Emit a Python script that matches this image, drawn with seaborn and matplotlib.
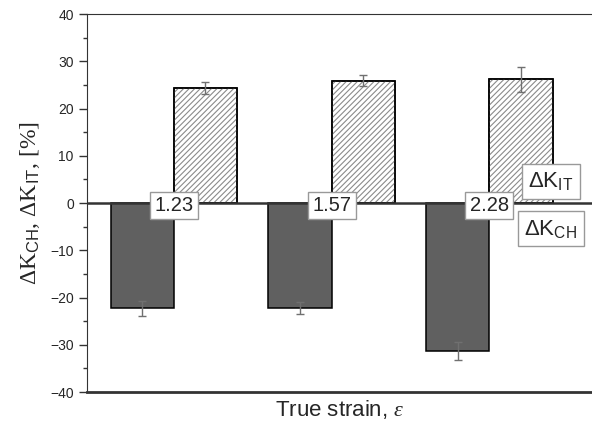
import numpy as np
import pandas as pd
import matplotlib
matplotlib.use('Agg')
import matplotlib.pyplot as plt
import seaborn as sns
from matplotlib.ticker import MultipleLocator

# ---- data ----
strain = ['1.23', '1.57', '2.28']
dk_ch = [-22.3, -22.2, -31.3]
dk_ch_err = [1.5, 1.2, 1.9]
dk_it = [24.4, 25.9, 26.2]
dk_it_err = [1.3, 1.2, 2.6]

df = pd.DataFrame({
    'strain': strain * 2,
    'value': dk_ch + dk_it,
    'series': ['CH'] * 3 + ['IT'] * 3,
})
errs = {'CH': dk_ch_err, 'IT': dk_it_err}

sns.set_style('ticks')
plt.rcParams['font.family'] = ['Liberation Sans', 'DejaVu Sans']
plt.rcParams['mathtext.fontset'] = 'custom'
plt.rcParams['mathtext.rm'] = 'Liberation Serif'
plt.rcParams['mathtext.sf'] = 'Liberation Sans'
plt.rcParams['mathtext.it'] = 'Liberation Serif:italic'
plt.rcParams['hatch.linewidth'] = 0.8

fig = plt.figure(figsize=(5.92, 4.28), dpi=100)
ax = fig.add_axes([0.147, 0.084, 0.853, 0.883])

sns.barplot(data=df, x='strain', y='value', hue='series', hue_order=['CH', 'IT'],
            order=strain, palette=['#606060', 'white'], width=0.8,
            edgecolor='black', linewidth=1.1, errorbar=None, legend=False, ax=ax)

# hatched series: gray hatch, then black outline on top
for bar in ax.containers[1]:
    x, y = bar.get_x(), bar.get_y()
    w, h = bar.get_width(), bar.get_height()
    ax.add_patch(plt.Rectangle((x, y), w, h, facecolor='none', edgecolor='#8a8a8a',
                               hatch='//////', linewidth=0, zorder=bar.get_zorder() + 0.1))
    ax.add_patch(plt.Rectangle((x, y), w, h, facecolor='none', edgecolor='black',
                               linewidth=1.1, zorder=bar.get_zorder() + 0.2))

for cont, key in zip(ax.containers, ['CH', 'IT']):
    xs = [b.get_x() + b.get_width() / 2 for b in cont]
    ys = [b.get_height() for b in cont]
    ax.errorbar(xs, ys, yerr=errs[key], fmt='none', ecolor='#707070',
                elinewidth=1, capsize=3, capthick=1, zorder=5)

ax.axhline(0, color='#333333', lw=1.8, zorder=4)

ax.set_xlim(-0.55, 2.65)
ax.set_ylim(-40, 40)
ax.yaxis.set_major_locator(MultipleLocator(10))
ax.yaxis.set_minor_locator(MultipleLocator(5))
ax.tick_params(axis='y', which='major', direction='out', length=6, width=1,
               labelsize=10, color='#333333')
ax.tick_params(axis='y', which='minor', direction='out', length=3, width=1,
               color='#333333')
ax.set_xticks([])

ax.spines['right'].set_visible(False)
ax.spines['left'].set_color('#333333')
ax.spines['top'].set_color('#333333')
ax.spines['bottom'].set_color('#333333')
ax.spines['bottom'].set_linewidth(2)

box = dict(boxstyle='square,pad=0.22', facecolor='white', edgecolor='#999999', lw=1)
for i, lab in enumerate(strain):
    ax.text(i, -0.5, lab, ha='center', va='center', fontsize=14.5, bbox=box, zorder=6)

legbox = dict(boxstyle='square,pad=0.28', facecolor='white', edgecolor='#999999', lw=1)
ax.text(2.39, 4.6, r'ΔK$_{\mathsf{IT}}$', ha='center', va='center',
        fontsize=16, bbox=legbox, zorder=6)
ax.text(2.39, -5.4, r'ΔK$_{\mathsf{CH}}$', ha='center', va='center',
        fontsize=16, bbox=legbox, zorder=6)

ax.set_ylabel(r'$\Delta\mathrm{K}_{\mathsf{CH}}$, $\Delta\mathrm{K}_{\mathsf{IT}}$, [%]',
              fontsize=17, family='Liberation Serif', labelpad=6)
ax.set_xlabel(r'True strain, $\varepsilon$', fontsize=16, labelpad=4)

fig.savefig('out.png', dpi=100)
